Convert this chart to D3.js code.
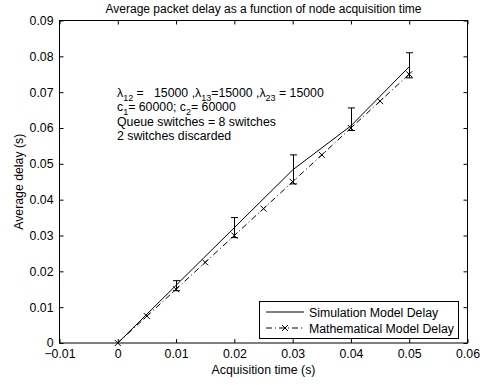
<!DOCTYPE html>
<html>
<head>
<meta charset="utf-8">
<script src="https://cdn.jsdelivr.net/npm/d3@7"></script>
<style>
  body { margin: 0; background: #fff; }
  text { font-family: "Liberation Sans", Arial, Helvetica, sans-serif; white-space: pre; }
</style>
</head>
<body>
<div id="chart"></div>
<script>
// values
const simTime  = [0, 0.01, 0.02, 0.03, 0.04, 0.05];
const simDelay = [0, 0.0161, 0.0322, 0.0483, 0.0606, 0.0771];
const errLow   = [0, 0.0146, 0.0294, 0.0444, 0.0593, 0.0740];
const errHigh  = [0, 0.0174, 0.0350, 0.0525, 0.0656, 0.0810];

const mathTime  = [0, 0.005, 0.01, 0.015, 0.02, 0.025, 0.03, 0.035, 0.04, 0.045, 0.05];
const mathDelay = [0, 0.0075, 0.015, 0.0225, 0.03, 0.0375, 0.045, 0.0525, 0.06, 0.0675, 0.075];

const xTicks = [-0.01, 0, 0.01, 0.02, 0.03, 0.04, 0.05, 0.06];
const yTicks = [0, 0.01, 0.02, 0.03, 0.04, 0.05, 0.06, 0.07, 0.08, 0.09];

const legendLabels = ["Simulation Model Delay", "Mathematical Model Delay"];

const width = 483, height = 385;
const pLeft = 59.5, pRight = 467.5, pTop = 20.5, pBottom = 343;
const fs = 12.3;

const svg = d3.select("#chart").append("svg")
  .attr("width", width)
  .attr("height", height);

const x = d3.scaleLinear().domain([-0.01, 0.06]).range([pLeft, pRight]);
const y = d3.scaleLinear().domain([0, 0.09]).range([pBottom, pTop]);

const fmt = d => d === 0 ? "0" : d3.format(".2f")(d).replace("-", "\u2212");

// axes with inward ticks, labels only on bottom / left
svg.append("g")
  .attr("transform", `translate(0,${pBottom})`)
  .call(d3.axisBottom(x).tickValues(xTicks).tickFormat(fmt).tickSizeInner(-4).tickSizeOuter(0).tickPadding(6))
  .call(g => g.select(".domain").remove());
svg.append("g")
  .attr("transform", `translate(0,${pTop})`)
  .call(d3.axisTop(x).tickValues(xTicks).tickFormat("").tickSizeInner(-4).tickSizeOuter(0))
  .call(g => g.select(".domain").remove());
svg.append("g")
  .attr("transform", `translate(${pLeft},0)`)
  .call(d3.axisLeft(y).tickValues(yTicks).tickFormat(fmt).tickSizeInner(-4).tickSizeOuter(0).tickPadding(6))
  .call(g => g.select(".domain").remove());
svg.append("g")
  .attr("transform", `translate(${pRight},0)`)
  .call(d3.axisRight(y).tickValues(yTicks).tickFormat("").tickSizeInner(-4).tickSizeOuter(0))
  .call(g => g.select(".domain").remove());

svg.selectAll(".tick text").attr("font-size", fs).attr("fill", "#000")
  .style("font-family", "'Liberation Sans', Arial, sans-serif");
svg.selectAll(".tick line").attr("stroke", "#000");

// box
svg.append("rect")
  .attr("x", pLeft).attr("y", pTop)
  .attr("width", pRight - pLeft).attr("height", pBottom - pTop)
  .attr("fill", "none").attr("stroke", "#000").attr("stroke-width", 1);

// simulation line
const simPts = simTime.map((t, i) => [t, simDelay[i]]);
svg.append("path")
  .datum(simPts)
  .attr("d", d3.line().x(d => x(d[0])).y(d => y(d[1])))
  .attr("fill", "none").attr("stroke", "#000").attr("stroke-width", 1);

// error bars
const cap = 3.5;
const eb = svg.append("g").attr("stroke", "#000").attr("stroke-width", 1);
simTime.forEach((t, i) => {
  if (errHigh[i] === errLow[i]) return;
  const cx = Math.round(x(t)) + 0.5;
  eb.append("line").attr("x1", cx).attr("x2", cx).attr("y1", y(errLow[i])).attr("y2", y(errHigh[i]));
  eb.append("line").attr("x1", cx - cap).attr("x2", cx + cap).attr("y1", y(errLow[i])).attr("y2", y(errLow[i]));
  eb.append("line").attr("x1", cx - cap).attr("x2", cx + cap).attr("y1", y(errHigh[i])).attr("y2", y(errHigh[i]));
});

// mathematical model line
const mathPts = mathTime.map((t, i) => [t, mathDelay[i]]);
svg.append("path")
  .datum(mathPts)
  .attr("d", d3.line().x(d => x(d[0])).y(d => y(d[1])))
  .attr("fill", "none").attr("stroke", "#000").attr("stroke-width", 1)
  .attr("stroke-dasharray", "6,3,1,3");

function cross(g, cx, cy) {
  const s = 3;
  g.append("path")
    .attr("d", `M${cx - s},${cy - s}L${cx + s},${cy + s}M${cx - s},${cy + s}L${cx + s},${cy - s}`)
    .attr("stroke", "#000").attr("stroke-width", 1).attr("fill", "none");
}
const mk = svg.append("g");
mathPts.forEach(d => cross(mk, x(d[0]), y(d[1])));

// annotation (TeX-style subscripts)
const note = svg.append("g").attr("font-size", fs).attr("fill", "#000");
function richLine(yy, parts) {
  const t = note.append("text").attr("x", 117).attr("y", yy);
  let down = false;
  parts.forEach(([s, sub]) => {
    const ts = t.append("tspan").text(s);
    if (sub) { ts.attr("font-size", 9).attr("dy", 4); down = true; }
    else if (down) { ts.attr("dy", -4); down = false; }
  });
}
richLine(96.5, [["\u03bb", 0], ["12", 1], [" =   15000 ,\u03bb", 0], ["13", 1], ["=15000 ,\u03bb", 0], ["23", 1], [" = 15000", 0]]);
richLine(111, [["c", 0], ["1", 1], ["= 60000; c", 0], ["2", 1], ["= 60000", 0]]);
note.append("text").attr("x", 117).attr("y", 125.5).text("Queue switches = 8 switches");
note.append("text").attr("x", 117).attr("y", 140).text("2 switches discarded");

// legend
const lg = svg.append("g");
lg.append("rect")
  .attr("x", 259.5).attr("y", 301.5).attr("width", 199).attr("height", 37)
  .attr("fill", "#fff").attr("stroke", "#000").attr("stroke-width", 1);
legendLabels.forEach((lab, i) => {
  const ly = 312 + i * 16;
  const ln = lg.append("line")
    .attr("x1", 266).attr("x2", 304).attr("y1", ly).attr("y2", ly)
    .attr("stroke", "#000").attr("stroke-width", 1);
  if (i === 1) {
    ln.attr("stroke-dasharray", "6,3,1,3");
    cross(lg, 285, ly);
  }
  lg.append("text").attr("x", 309).attr("y", ly + 4.5)
    .attr("font-size", fs).attr("fill", "#000").text(lab);
});

// titles
svg.append("text")
  .attr("x", (pLeft + pRight) / 2).attr("y", 13)
  .attr("text-anchor", "middle").attr("font-size", 12)
  .text("Average packet delay as a function of node acquisition time");
svg.append("text")
  .attr("x", (pLeft + pRight) / 2).attr("y", 374)
  .attr("text-anchor", "middle").attr("font-size", fs)
  .text("Acquisition time (s)");
svg.append("text")
  .attr("transform", `translate(23,${(pTop + pBottom) / 2}) rotate(-90)`)
  .attr("text-anchor", "middle").attr("font-size", fs)
  .text("Average delay (s)");
</script>
</body>
</html>
